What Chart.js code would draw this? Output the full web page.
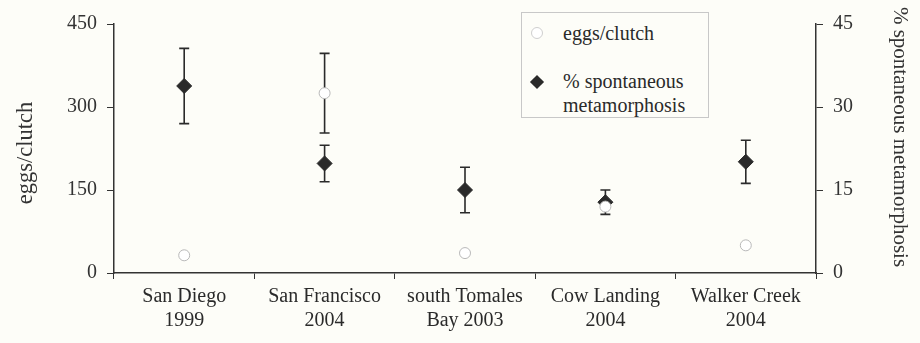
<!DOCTYPE html>
<html><head><meta charset="utf-8">
<script src="https://cdn.jsdelivr.net/npm/chart.js@4.4.1/dist/chart.umd.min.js"></script>
<style>
html,body{margin:0;padding:0;background:#fdfdf8;}
#wrap{position:relative;width:920px;height:343px;overflow:hidden;}
#legend{position:absolute;left:521px;top:12px;width:188px;height:106px;border:1px solid #c8c8c8;box-sizing:border-box;font-family:"Liberation Serif","Times New Roman",serif;font-size:20px;color:#2a2a2a;background:#fdfdf8;}
#legend .tx{position:absolute;line-height:24px;white-space:nowrap;}
#legend .circ{position:absolute;width:10px;height:10px;border:1px solid #cfcfcf;border-radius:50%;background:#fff;}
#legend .dia{position:absolute;width:10px;height:10px;background:#2a2a2a;transform:rotate(45deg);}
</style></head>
<body><div id="wrap"><canvas id="c" width="920" height="343"></canvas>
<div id="legend">
<span class="circ" style="left:9px;top:14px"></span>
<span class="tx" style="left:41px;top:8px">eggs/clutch</span>
<span class="dia" style="left:10px;top:64px"></span>
<span class="tx" style="left:41px;top:56px">% spontaneous<br>metamorphosis</span>
</div></div>
<script>
const categories = [["San Diego","1999"],["San Francisco","2004"],["south Tomales","Bay 2003"],["Cow Landing","2004"],["Walker Creek","2004"]];
const eggsPerClutch = [32, 325, 36, 120, 50];
const eggsError = [0, 72, 0, 0, 0];
const spontMeta = [33.8, 19.8, 15.0, 12.8, 20.1];
const spontMetaError = [6.8, 3.3, 4.1, 2.2, 3.9];
const leftTicks = [0, 150, 300, 450];
const rightTicks = [0, 15, 30, 45];
const leftTitle = 'eggs/clutch';
const rightTitle = '% spontaneous metamorphosis';

const FONT = '"Liberation Serif","Times New Roman",serif';
const INK = '#2a2a2a';

const errorBars = {
  id: 'errorBars',
  beforeDatasetsDraw(chart) {
    const ctx = chart.ctx;
    chart.data.datasets.forEach((ds) => {
      const errs = ds.errors;
      if (!errs) return;
      const ys = chart.scales[ds.yAxisID];
      const xs = chart.scales.x;
      ctx.save();
      ctx.strokeStyle = INK;
      ctx.lineWidth = 1.6;
      ds.data.forEach((v, i) => {
        const e = errs[i];
        if (!e) return;
        const x = xs.getPixelForValue(i);
        const yt = ys.getPixelForValue(v + e);
        const yb = ys.getPixelForValue(v - e);
        ctx.beginPath();
        ctx.moveTo(x, yt); ctx.lineTo(x, yb);
        ctx.moveTo(x - 5, yt); ctx.lineTo(x + 5, yt);
        ctx.moveTo(x - 5, yb); ctx.lineTo(x + 5, yb);
        ctx.stroke();
      });
      ctx.restore();
    });
  }
};

const axisTitles = {
  id: 'axisTitles',
  afterDraw(chart) {
    const ctx = chart.ctx;
    ctx.save();
    ctx.fillStyle = '#333';
    ctx.textAlign = 'center';
    ctx.textBaseline = 'middle';
    ctx.font = '22.5px ' + FONT;
    ctx.translate(26, 153);
    ctx.rotate(-Math.PI / 2);
    ctx.fillText(leftTitle, 0, 0);
    ctx.restore();
    ctx.save();
    ctx.fillStyle = '#333';
    ctx.textAlign = 'center';
    ctx.textBaseline = 'middle';
    ctx.font = '21px ' + FONT;
    ctx.translate(900, 137);
    ctx.rotate(Math.PI / 2);
    ctx.fillText(rightTitle, 0, 0);
    ctx.restore();
  }
};

new Chart(document.getElementById('c'), {
  type: 'line',
  data: {
    labels: categories,
    datasets: [
      {
        label: 'eggs/clutch', data: eggsPerClutch, errors: eggsError, yAxisID: 'yL',
        showLine: false, pointStyle: 'circle', pointRadius: 5.5, pointBorderWidth: 1,
        pointBackgroundColor: '#ffffff', pointBorderColor: '#b8b8b8'
      },
      {
        label: '% spontaneous metamorphosis', data: spontMeta, errors: spontMetaError, yAxisID: 'yR',
        showLine: false, pointStyle: 'rectRot', pointRadius: 7.5, pointBorderWidth: 1,
        pointBackgroundColor: INK, pointBorderColor: INK
      }
    ]
  },
  options: {
    responsive: false, animation: false,
    layout: { padding: { top: 24, left: 0, right: 0, bottom: 0 } },
    plugins: { legend: { display: false }, tooltip: { enabled: false } },
    scales: {
      x: {
        type: 'category', offset: true,
        grid: { offset: true, drawOnChartArea: false, drawTicks: true, tickLength: 6, color: '#333' },
        border: { display: true, color: '#333', width: 1.5 },
        ticks: { font: { family: FONT, size: 20 }, color: '#2a2a2a', padding: 6, maxRotation: 0, autoSkip: false },
        afterFit(s) { s.height = 70; }
      },
      yL: {
        position: 'left', min: 0, max: 450,
        afterBuildTicks(s) { s.ticks = leftTicks.map(v => ({ value: v })); },
        grid: { drawOnChartArea: false, drawTicks: true, tickLength: 7, color: '#333' },
        border: { display: true, color: '#333', width: 1.5 },
        ticks: { font: { family: FONT, size: 20 }, color: '#333', padding: 10 },
        afterFit(s) { s.width = 114; }
      },
      yR: {
        position: 'right', min: 0, max: 45,
        afterBuildTicks(s) { s.ticks = rightTicks.map(v => ({ value: v })); },
        grid: { drawOnChartArea: false, drawTicks: true, tickLength: 7, color: '#333' },
        border: { display: true, color: '#333', width: 1.5 },
        ticks: { font: { family: FONT, size: 20 }, color: '#333', padding: 10 },
        afterFit(s) { s.width = 104; }
      }
    }
  },
  plugins: [errorBars, axisTitles]
});
</script>
</body></html>
